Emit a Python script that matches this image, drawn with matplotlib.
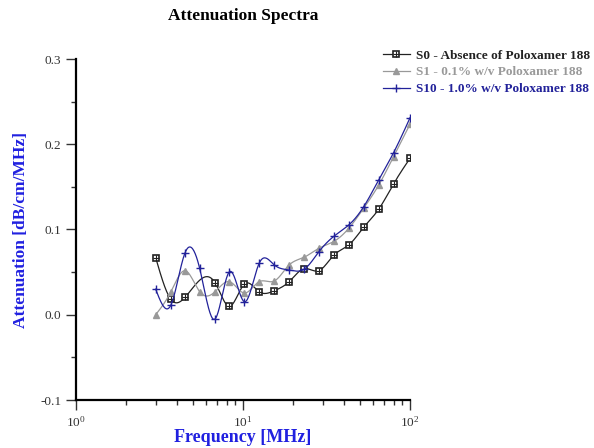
import numpy as np
import matplotlib
matplotlib.use('Agg')
import matplotlib.pyplot as plt
from matplotlib.legend_handler import HandlerTuple
from matplotlib.ticker import MultipleLocator

plt.rcParams['font.family'] = ['Liberation Serif', 'DejaVu Serif']
plt.rcParams['mathtext.fontset'] = 'stix'

# frequencies [MHz]
freq = [3.0, 3.7, 4.5, 5.5, 6.8, 8.3, 10.2, 12.5, 15.4, 18.9, 23.2, 28.5,
        35.0, 43.0, 52.8, 64.9, 79.7, 100.0]

# S0 has no point at 5.5 MHz
freq_s0 = [3.0, 3.7, 4.5, 6.8, 8.3, 10.2, 12.5, 15.4, 18.9, 23.2, 28.5,
           35.0, 43.0, 52.8, 64.9, 79.7, 100.0]
s0 = [0.067, 0.018, 0.0205, 0.0376, 0.0099, 0.0361, 0.027, 0.0282, 0.0388,
      0.054, 0.0517, 0.070, 0.0818, 0.1026, 0.1237, 0.1534, 0.1835]
s1 = [0.000, 0.027, 0.0517, 0.027, 0.027, 0.0388, 0.0255, 0.0388, 0.0396,
      0.0584, 0.0674, 0.078, 0.086, 0.1014, 0.125, 0.152, 0.1854, 0.2235]
s10 = [0.030, 0.0114, 0.0728, 0.0545, -0.005, 0.0505, 0.0153, 0.0604,
       0.0584, 0.0525, 0.0533, 0.074, 0.092, 0.1053, 0.1267, 0.158, 0.190,
       0.231]

labels = ['S0 - Absence of Poloxamer 188',
          'S1 - 0.1% w/v Poloxamer 188',
          'S10 - 1.0% w/v Poloxamer 188']


def spline(x, y, n=400):
    # natural cubic spline in log10(x), just for drawing the smooth line
    t = np.log10(np.asarray(x, float))
    y = np.asarray(y, float)
    m = len(t)
    h = np.diff(t)
    A = np.zeros((m, m))
    b = np.zeros(m)
    A[0, 0] = A[-1, -1] = 1
    for i in range(1, m - 1):
        A[i, i - 1] = h[i - 1]
        A[i, i] = 2 * (h[i - 1] + h[i])
        A[i, i + 1] = h[i]
        b[i] = 6 * ((y[i + 1] - y[i]) / h[i] - (y[i] - y[i - 1]) / h[i - 1])
    M = np.linalg.solve(A, b)
    tt = np.linspace(t[0], t[-1], n)
    k = np.clip(np.searchsorted(t, tt) - 1, 0, m - 2)
    dx = tt - t[k]
    hk = h[k]
    a = (y[k + 1] - y[k]) / hk - hk * (2 * M[k] + M[k + 1]) / 6
    yy = y[k] + a * dx + M[k] / 2 * dx ** 2 + (M[k + 1] - M[k]) / (6 * hk) * dx ** 3
    return 10 ** tt, yy


fig = plt.figure(figsize=(5.94, 4.48), dpi=100)
ax = fig.add_axes([76 / 594, 1 - 400 / 448, 334 / 594, 341 / 448])

black = '#222222'
gray = '#999999'
blue = '#22229a'

xs, ys = spline(freq_s0, s0)
ax.plot(xs, ys, color=black, lw=0.9)
sq, = ax.plot(freq_s0, s0, ls='none', marker='s', ms=4.5, mfc='white',
              mec=black, mew=1.2)
pl, = ax.plot(freq_s0, s0, ls='none', marker='+', ms=4.5, mec=black, mew=0.8)
ln0, = ax.plot([], [], color=black, lw=0.9)

xs, ys = spline(freq, s1)
ax.plot(xs, ys, color=gray, lw=0.9)
ax.plot(freq, s1, ls='none', marker='^', ms=4.5, color=gray)
ln1, = ax.plot([], [], color=gray, lw=0.9, marker='^', ms=4.5)

xs, ys = spline(freq, s10)
ax.plot(xs, ys, color=blue, lw=0.9)
ax.plot(freq, s10, ls='none', marker='+', ms=6, mew=1.0, color=blue)
ln2, = ax.plot([], [], color=blue, lw=0.9, marker='+', ms=6, mew=1.0)

ax.set_xscale('log')
ax.set_xlim(1, 100)
ax.set_ylim(-0.1, 0.3)
ax.yaxis.set_major_locator(MultipleLocator(0.1))
ax.yaxis.set_minor_locator(MultipleLocator(0.05))
ax.yaxis.set_major_formatter(lambda v, p: f'{v:.1f}')

for s in ['top', 'right']:
    ax.spines[s].set_visible(False)
for s in ['left', 'bottom']:
    ax.spines[s].set_linewidth(1.6)
ax.tick_params(which='major', length=7, width=1, direction='out',
               labelsize=9.5, colors='#333333')
ax.tick_params(which='minor', length=3.5, width=1, direction='out',
               colors='#333333')

ax.set_xlabel('Frequency [MHz]', color='#2020e0', fontsize=13,
              fontweight='bold', labelpad=0)
ax.set_ylabel('Attenuation [dB/cm/MHz]', color='#2020e0', fontsize=12.5,
              fontweight='bold', labelpad=8)
fig.text(243 / 594, 1 - 16 / 448, 'Attenuation Spectra', ha='center',
         va='center', fontsize=12.5, fontweight='bold')

leg = fig.legend([(ln0, sq, pl), ln1, ln2], labels,
                 handler_map={tuple: HandlerTuple(ndivide=1)},
                 loc='upper left', bbox_to_anchor=(378 / 594, 1 - 44 / 448),
                 frameon=False, fontsize=9.5, handlelength=2.0,
                 handletextpad=0.5, labelspacing=0.35, borderaxespad=0)
for txt, c in zip(leg.get_texts(), [black, gray, blue]):
    txt.set_color(c)
    txt.set_fontweight('bold')

fig.savefig('out.png', dpi=100)
